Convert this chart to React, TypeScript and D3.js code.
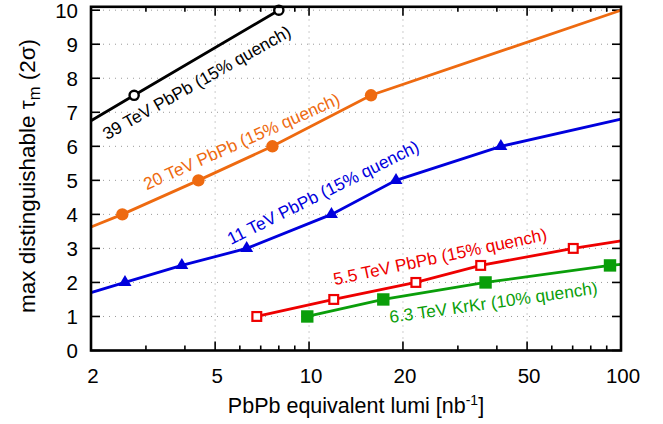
import React from "react";
import * as d3 from "d3";

const W = 663;
const H = 424;

// data (x = PbPb equivalent lumi [nb^-1], y = max tau_m)
const black39 = [[2.75, 7.5], [8, 10]];
const black39Start = [2, 6.75];
const orange20 = [[2.52, 4], [4.42, 5], [7.63, 6], [15.8, 7.5]];
const orange20Start = [2, 3.63];
const orange20End = [100, 10];
const blue11 = [[2.57, 2], [3.91, 2.5], [6.31, 3], [11.8, 4], [19.0, 5], [41.2, 6]];
const blue11Start = [2, 1.7];
const blue11End = [100, 6.8];
const red55 = [[6.8, 1], [12, 1.5], [22, 2], [35.5, 2.5], [70.3, 3]];
const red55End = [100, 3.22];
const green63 = [[9.87, 1], [17.3, 1.5], [36.8, 2], [92.2, 2.5]];
const green63End = [100, 2.53];

const xMajor = [2, 5, 10, 20, 50, 100];
const xMinor = [3, 4, 6, 7, 8, 9, 30, 40, 60, 70, 80, 90];
const xGrid = [5, 10, 20, 50];
const yTicks = [0, 1, 2, 3, 4, 5, 6, 7, 8, 9, 10];

const labels = [
  { text: "39 TeV PbPb (15% quench)", x: 2.25, y: 6.18, angle: -29.5, color: "#000000" },
  { text: "20 TeV PbPb (15% quench)", x: 3.02, y: 4.71, angle: -24, color: "#ee6a10" },
  { text: "11 TeV PbPb (15% quench)", x: 5.62, y: 3.1, angle: -26.5, color: "#0000dd" },
  { text: "5.5 TeV PbPb (15% quench)", x: 12.1, y: 1.92, angle: -12, color: "#ee0000" },
  { text: "6.3 TeV KrKr (10% quench)", x: 18.2, y: 0.81, angle: -8, color: "#0a9e0a" },
];

const FONT = "'Liberation Sans', Arial, Helvetica, sans-serif";

export default function App() {
  const left = 91, right = 621, top = 6.8, bottom = 350.5;
  const x = d3.scaleLog().domain([2, 100]).range([left, right]);
  const y = d3.scaleLinear().domain([0, 10.1]).range([bottom, top]);
  const line = d3.line<number[]>().x((d) => x(d[0])).y((d) => y(d[1]));

  const series = [
    { pts: [black39Start, ...black39], marks: black39, color: "#000000", kind: "ocircle" },
    { pts: [orange20Start, ...orange20, orange20End], marks: orange20, color: "#ee6a10", kind: "circle" },
    { pts: [blue11Start, ...blue11, blue11End], marks: blue11, color: "#0000dd", kind: "tri" },
    { pts: [...red55, red55End], marks: red55, color: "#ee0000", kind: "osquare" },
    { pts: [...green63, green63End], marks: green63, color: "#0a9e0a", kind: "square" },
  ];

  const marker = (kind: string, color: string, px: number, py: number, key: number) => {
    if (kind === "ocircle")
      return <circle key={key} cx={px} cy={py} r={4.6} fill="white" stroke={color} strokeWidth={2.4} />;
    if (kind === "circle") return <circle key={key} cx={px} cy={py} r={6.2} fill={color} />;
    if (kind === "tri") {
      const h = 11, w = 13;
      const p = `${px},${py - (2 * h) / 3} ${px - w / 2},${py + h / 3} ${px + w / 2},${py + h / 3}`;
      return <polygon key={key} points={p} fill={color} />;
    }
    if (kind === "osquare")
      return <rect key={key} x={px - 4.4} y={py - 4.4} width={8.8} height={8.8} fill="white" stroke={color} strokeWidth={2.2} />;
    return <rect key={key} x={px - 6.2} y={py - 6.2} width={12.4} height={12.4} fill={color} />;
  };

  return (
    <svg width={W} height={H} style={{ position: "absolute", left: 0, top: 0, background: "white" }} fontFamily={FONT}>
      {/* grid */}
      <g stroke="#9a9a9a" strokeWidth={1} strokeDasharray="1,5">
        {yTicks.filter((t) => t > 0).map((t) => (
          <line key={"gy" + t} x1={left} x2={right} y1={y(t)} y2={y(t)} />
        ))}
        {xGrid.map((t) => (
          <line key={"gx" + t} x1={x(t)} x2={x(t)} y1={bottom} y2={top} />
        ))}
      </g>
      {/* ticks */}
      <g stroke="#000" strokeWidth={1.6}>
        {xMajor.map((t) => (
          <g key={"xm" + t}>
            <line x1={x(t)} x2={x(t)} y1={bottom} y2={bottom - 9} />
            <line x1={x(t)} x2={x(t)} y1={top} y2={top + 9} />
          </g>
        ))}
        {xMinor.map((t) => (
          <g key={"xn" + t}>
            <line x1={x(t)} x2={x(t)} y1={bottom} y2={bottom - 5} />
            <line x1={x(t)} x2={x(t)} y1={top} y2={top + 5} />
          </g>
        ))}
        {yTicks.map((t) => (
          <g key={"yt" + t}>
            <line x1={left} x2={left + 9} y1={y(t)} y2={y(t)} />
            <line x1={right} x2={right - 9} y1={y(t)} y2={y(t)} />
          </g>
        ))}
      </g>
      {/* series lines */}
      {series.map((s, i) => (
        <path key={"l" + i} d={line(s.pts as number[][]) || ""} fill="none" stroke={s.color} strokeWidth={2.8} />
      ))}
      {/* markers */}
      {series.map((s, i) => (
        <g key={"m" + i}>{s.marks.map((d, j) => marker(s.kind, s.color, x(d[0]), y(d[1]), j))}</g>
      ))}
      {/* series labels */}
      {labels.map((l, i) => (
        <text key={"lab" + i} transform={`translate(${x(l.x)},${y(l.y)}) rotate(${l.angle})`} fill={l.color} fontSize={17.3}>
          {l.text}
        </text>
      ))}
      {/* frame */}
      <rect x={left} y={top} width={right - left} height={bottom - top} fill="none" stroke="#000" strokeWidth={2.6} />
      {/* tick labels */}
      <g fontSize={20.5} fill="#000">
        {xMajor.map((t) => (
          <text key={"xl" + t} x={x(t) + 2} y={383} textAnchor="middle">
            {t}
          </text>
        ))}
        {yTicks.map((t) => (
          <text key={"yl" + t} x={78} y={y(t) + 7.5} textAnchor="end">
            {t}
          </text>
        ))}
      </g>
      {/* axis titles */}
      <text x={356} y={413} textAnchor="middle" fontSize={21.5}>
        PbPb equivalent lumi [nb<tspan dy={-8} fontSize={14}>-1</tspan>
        <tspan dy={8}>]</tspan>
      </text>
      <text transform={`translate(35,176) rotate(-90)`} textAnchor="middle" fontSize={22.5}>
        max distinguishable τ<tspan dy={5} fontSize={16.5}>m</tspan>
        <tspan dy={-5}> (2σ)</tspan>
      </text>
    </svg>
  );
}
